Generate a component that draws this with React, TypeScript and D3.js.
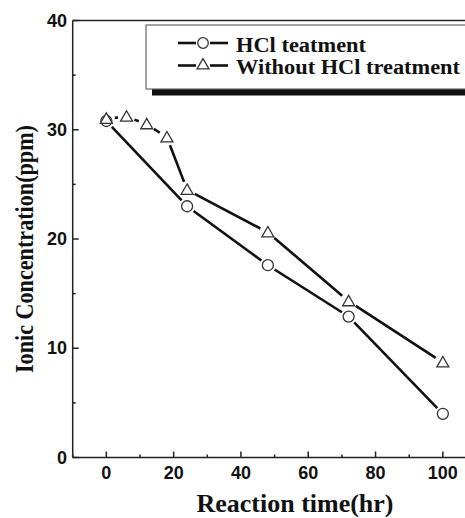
import React from 'react';
import * as d3 from 'd3';

// data
const hclTime = [0, 24, 48, 72, 100];
const hclConc = [30.8, 23.0, 17.6, 12.9, 4.0];
const rawTime = [0, 6, 12, 18, 24, 48, 72, 100];
const rawConc = [31.0, 31.2, 30.5, 29.3, 24.5, 20.6, 14.3, 8.7];
const xTicks = [0, 20, 40, 60, 80, 100];
const yTicks = [0, 10, 20, 30, 40];
const legendLabels = ['HCl teatment', 'Without HCl treatment'];
const legendWidths = [130, 224];

const W = 465;
const H = 518;
const serif = '"Liberation Serif", "Times New Roman", serif';
const sans = '"Liberation Sans", Arial, sans-serif';

const x = d3.scaleLinear().domain([-10, 110]).range([72.7, 476.5]);
const y = d3.scaleLinear().domain([0, 40]).range([457.5, 20.5]);

type Pt = { t: number; c: number };

// segments between markers, with a gap around each marker (Origin style)
function segments(pts: Pt[], gap: number) {
  const out: { x1: number; y1: number; x2: number; y2: number }[] = [];
  for (let i = 0; i < pts.length - 1; i++) {
    const ax = x(pts[i].t), ay = y(pts[i].c);
    const bx = x(pts[i + 1].t), by = y(pts[i + 1].c);
    const len = Math.hypot(bx - ax, by - ay);
    if (len <= gap * 2) continue;
    const ux = (bx - ax) / len, uy = (by - ay) / len;
    out.push({ x1: ax + ux * gap, y1: ay + uy * gap, x2: bx - ux * gap, y2: by - uy * gap });
  }
  return out;
}

const tri = d3.symbol().type(d3.symbolTriangle).size(62);

const App = () => {
  const hcl: Pt[] = hclTime.map((t, i) => ({ t, c: hclConc[i] }));
  const raw: Pt[] = rawTime.map((t, i) => ({ t, c: rawConc[i] }));
  const minorX = d3.range(-10, 111, 10).filter((v) => !xTicks.includes(v));
  const minorY = d3.range(5, 40, 10);

  return (
    <div style={{ position: 'absolute', left: 0, top: 0 }}>
      <svg width={W} height={H} style={{ display: 'block', background: '#fff' }}>
        {/* series lines */}
        {segments(hcl, 8).map((s, i) => (
          <line key={'h' + i} {...s} stroke="#111" strokeWidth={2.6} />
        ))}
        {segments(raw, 8.5).map((s, i) => (
          <line key={'r' + i} {...s} stroke="#111" strokeWidth={2.6} />
        ))}
        {/* markers */}
        {hcl.map((d, i) => (
          <circle key={'hc' + i} cx={x(d.t)} cy={y(d.c)} r={5.5} fill="#fff" stroke="#333" strokeWidth={1.3} />
        ))}
        {raw.map((d, i) => (
          <path
            key={'rt' + i}
            d={tri() as string}
            transform={`translate(${x(d.t)},${y(d.c) + 1})`}
            fill="#fff"
            stroke="#333"
            strokeWidth={1.3}
          />
        ))}

        {/* frame */}
        <line x1={x(-10)} x2={W} y1={y(40)} y2={y(40)} stroke="#222" strokeWidth={1.5} />
        <line x1={x(-10)} x2={x(-10)} y1={y(40)} y2={y(0)} stroke="#222" strokeWidth={1.5} />
        <line x1={x(-10)} x2={W} y1={y(0)} y2={y(0)} stroke="#222" strokeWidth={1.5} />

        {/* x ticks */}
        {xTicks.map((v) => (
          <g key={'xt' + v}>
            <line x1={x(v)} x2={x(v)} y1={y(0)} y2={y(0) - 6} stroke="#222" strokeWidth={1.5} />
            <text x={x(v)} y={y(0) + 21} textAnchor="middle" fontFamily={sans} fontWeight="bold" fontSize={18} fill="#111">
              {v}
            </text>
          </g>
        ))}
        {minorX.map((v) => (
          <line key={'xm' + v} x1={x(v)} x2={x(v)} y1={y(0)} y2={y(0) - 3} stroke="#222" strokeWidth={1.5} />
        ))}

        {/* y ticks */}
        {yTicks.map((v) => (
          <g key={'yt' + v}>
            <line x1={x(-10)} x2={x(-10) + 6} y1={y(v)} y2={y(v)} stroke="#222" strokeWidth={1.5} />
            <text x={67} y={y(v) + 6} textAnchor="end" fontFamily={sans} fontWeight="bold" fontSize={18} fill="#111">
              {v}
            </text>
          </g>
        ))}
        {minorY.map((v) => (
          <line key={'ym' + v} x1={x(-10)} x2={x(-10) + 3} y1={y(v)} y2={y(v)} stroke="#222" strokeWidth={1.5} />
        ))}

        {/* axis titles */}
        <text x={295} y={512} textAnchor="middle" fontFamily={serif} fontWeight="bold" fontSize={26} fill="#111">
          Reaction time(hr)
        </text>
        <text
          transform="translate(33,249) rotate(-90)"
          textAnchor="middle"
          fontFamily={serif}
          fontWeight="bold"
          fontSize={26}
          textLength={248}
          lengthAdjust="spacingAndGlyphs"
          fill="#111"
        >
          Ionic Concentration(ppm)
        </text>

        {/* legend */}
        <rect x={152} y={89} width={W} height={6.5} fill="#111" />
        <rect x={146} y={25} width={W} height={64} fill="#fff" stroke="#666" strokeWidth={1.2} />
        {legendLabels.map((lab, i) => {
          const ly = 43 + i * 22.5;
          return (
            <g key={lab}>
              <line x1={178} x2={196} y1={ly} y2={ly} stroke="#111" strokeWidth={2.6} />
              <line x1={210} x2={228} y1={ly} y2={ly} stroke="#111" strokeWidth={2.6} />
              {i === 0 ? (
                <circle cx={203} cy={ly} r={5.3} fill="#fff" stroke="#333" strokeWidth={1.3} />
              ) : (
                <path d={tri() as string} transform={`translate(203,${ly})`} fill="#fff" stroke="#333" strokeWidth={1.3} />
              )}
              <text
                x={236}
                y={ly + 8.5}
                fontFamily={serif}
                fontWeight="bold"
                fontSize={20}
                textLength={legendWidths[i]}
                lengthAdjust="spacingAndGlyphs"
                fill="#111"
              >
                {lab}
              </text>
            </g>
          );
        })}
      </svg>
    </div>
  );
};

export default App;
